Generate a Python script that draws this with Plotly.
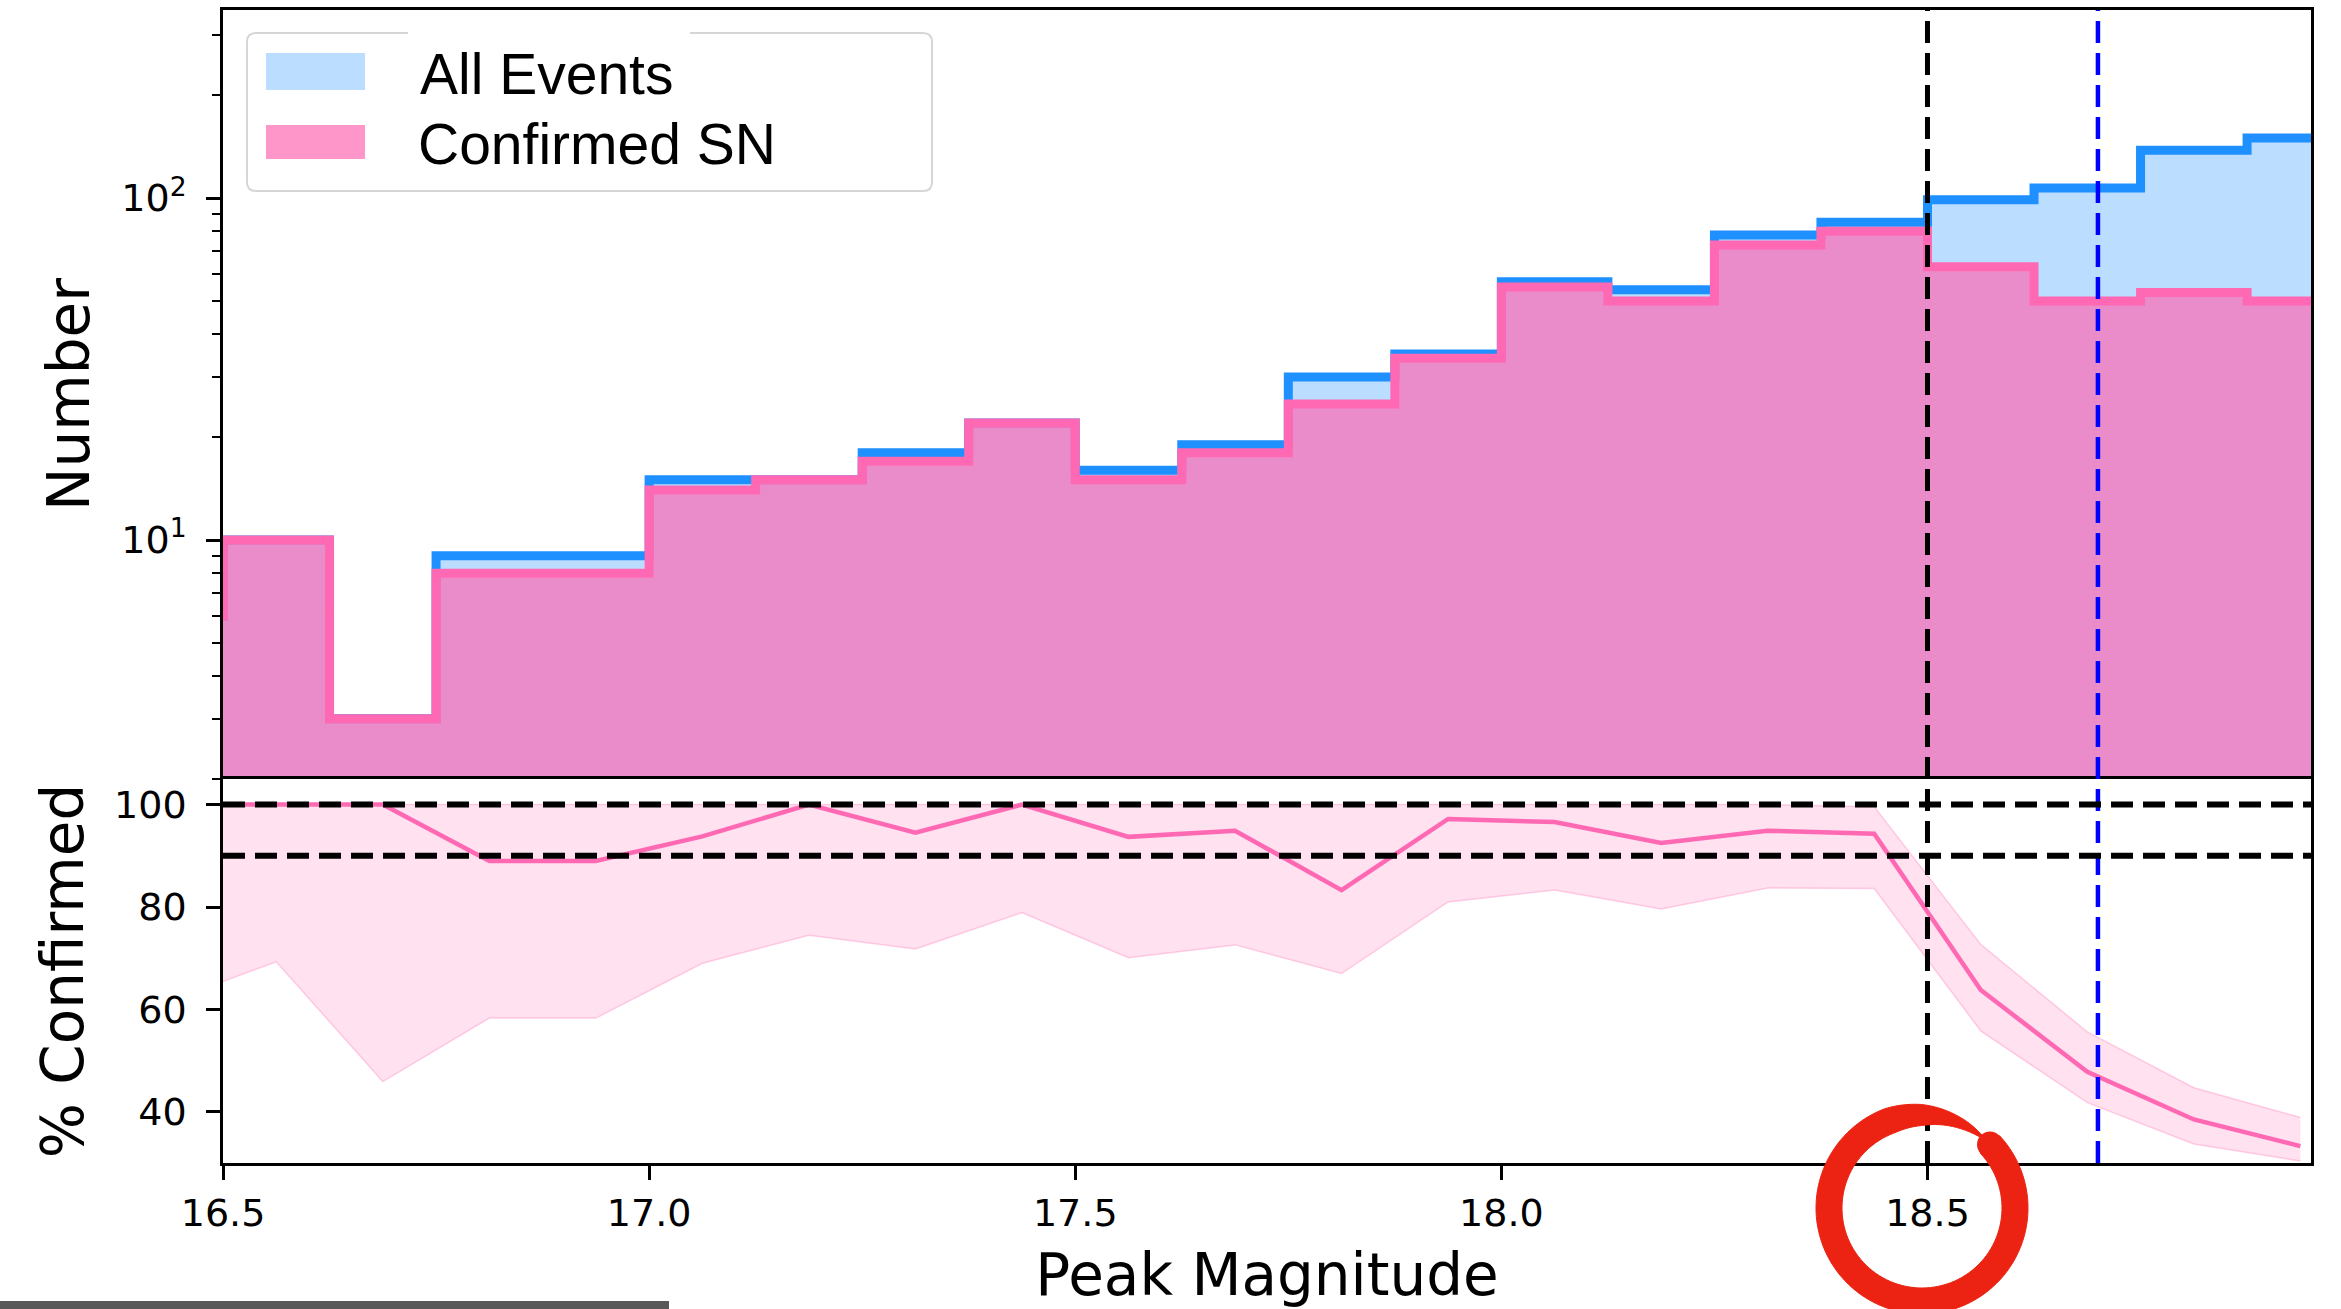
import math
import plotly.graph_objects as go

# ---------------- data ----------------
bin_left_edges = [16.375, 16.5, 16.625, 16.75, 16.875, 17.0, 17.125, 17.25, 17.375, 17.5,
                  17.625, 17.75, 17.875, 18.0, 18.125, 18.25, 18.375, 18.5, 18.625, 18.75, 18.875]
bin_last_edge = 19.0
all_events = [6, 10, 3, 9, 9, 15, 15, 18, 22, 16, 19, 30, 35, 57, 54, 78, 85, 99, 107, 138, 150]
confirmed_sn = [6, 10, 3, 8, 8, 14, 15, 17, 22, 15, 18, 25, 34, 55, 50, 73, 80, 63, 50, 53, 50]

bin_centers = [16.4375, 16.5625, 16.6875, 16.8125, 16.9375, 17.0625, 17.1875, 17.3125, 17.4375, 17.5625,
               17.6875, 17.8125, 17.9375, 18.0625, 18.1875, 18.3125, 18.4375, 18.5625, 18.6875, 18.8125, 18.9375]
pct_confirmed = [100, 100, 100, 89.0, 89.0, 93.8, 100, 94.5, 100, 93.7,
                 94.9, 83.3, 97.2, 96.6, 92.5, 94.9, 94.3, 63.8, 47.8, 38.5, 33.3]
pct_lower = [61.6, 69.3, 45.9, 58.3, 58.3, 69.0, 74.5, 71.8, 78.9, 70.1,
             72.6, 67.0, 81.0, 83.3, 79.6, 83.7, 83.6, 55.8, 41.8, 33.7, 30.4]
pct_upper = [100, 100, 100, 100, 100, 100, 100, 100, 100, 100,
             100, 100, 100, 100, 100, 100, 99.6, 72.7, 55.6, 44.7, 38.9]

x_tick_vals = [16.5, 17.0, 17.5, 18.0, 18.5]
x_tick_text = ["16.5", "17.0", "17.5", "18.0", "18.5"]
count_major_vals = [10, 100]
count_major_text = ["10<sup>1</sup>", "10<sup>2</sup>"]
count_minor_vals = [2, 3, 4, 5, 6, 7, 8, 9, 20, 30, 40, 50, 60, 70, 80, 90, 200, 300]
pct_tick_vals = [40, 60, 80, 100]
pct_ref_lines = [100, 90]
cut_mag = 18.5
blue_mag = 18.7
legend_labels = ["All Events", "Confirmed SN"]

# ---------------- styling ----------------
BLUE = "#1E90FF"
PINK = "#FF69B4"
BLUE_FILL = "rgba(30,144,255,0.3)"
PINK_FILL = "rgba(255,105,180,0.7)"
FIG_W, FIG_H = 2341, 1309
ML, MR, MT, MB = 223, 30, 10, 146
PW, PH = FIG_W - ML - MR, FIG_H - MT - MB
SPLIT = (1163 - 779) / PH


def px(xp):
    return (xp - ML) / PW


def py(yp):
    return (FIG_H - MB - yp) / PH


step_x = bin_left_edges + [bin_last_edge]
step_all = all_events + [all_events[-1]]
step_conf = confirmed_sn + [confirmed_sn[-1]]

fig = go.Figure()
fig.add_trace(go.Scatter(x=step_x, y=step_all, mode="lines", xaxis="x", yaxis="y",
                         line=dict(color=BLUE, width=9, shape="hv"),
                         fill="tozeroy", fillcolor=BLUE_FILL, name=legend_labels[0],
                         showlegend=False, hoverinfo="skip"))
fig.add_trace(go.Scatter(x=step_x, y=step_conf, mode="lines", xaxis="x", yaxis="y",
                         line=dict(color=PINK, width=9, shape="hv"),
                         fill="tozeroy", fillcolor=PINK_FILL, name=legend_labels[1],
                         showlegend=False, hoverinfo="skip"))

band_line = dict(color="rgba(255,105,180,0.3)", width=1.5)
fig.add_trace(go.Scatter(x=bin_centers, y=pct_lower, mode="lines", xaxis="x2", yaxis="y2",
                         line=band_line, showlegend=False, hoverinfo="skip"))
fig.add_trace(go.Scatter(x=bin_centers, y=pct_upper, mode="lines", xaxis="x2", yaxis="y2",
                         line=band_line, fill="tonexty", fillcolor="rgba(255,105,180,0.2)",
                         showlegend=False, hoverinfo="skip"))
fig.add_trace(go.Scatter(x=bin_centers, y=pct_confirmed, mode="lines", xaxis="x2", yaxis="y2",
                         line=dict(color=PINK, width=4.5), showlegend=False, hoverinfo="skip"))

axis_common = dict(showline=True, linecolor="black", linewidth=2.5, automargin=False,
                   showgrid=False, zeroline=False, tickcolor="black", tickwidth=2.5,
                   tickfont=dict(family="DejaVu Sans", size=38, color="black"))
title_font = dict(family="DejaVu Sans", size=58, color="black")

fig.update_layout(
    width=FIG_W, height=FIG_H, autosize=False,
    margin=dict(l=ML, r=MR, t=MT, b=MB, pad=0),
    paper_bgcolor="white", plot_bgcolor="white",
    font=dict(family="DejaVu Sans", color="black"),
    showlegend=False,
    xaxis=dict(domain=[0, 1], anchor="y", side="top", mirror=False, range=[16.5, 18.95],
               ticks="", showticklabels=False, **axis_common),
    xaxis2=dict(domain=[0, 1], anchor="y2", matches="x", range=[16.5, 18.95], mirror=True,
                tickmode="array", tickvals=x_tick_vals, ticktext=x_tick_text,
                ticks="outside", ticklen=14, ticklabelstandoff=1,
                title=dict(text="Peak Magnitude", font=title_font, standoff=22),
                **axis_common),
    yaxis=dict(domain=[SPLIT, 1], anchor="x", type="log", mirror=True,
               range=[math.log10(2), 2.5504],
               tickmode="array", tickvals=count_major_vals, ticktext=count_major_text,
               ticks="outside", ticklen=14, ticklabelstandoff=12,
               minor=dict(tickmode="array", tickvals=count_minor_vals, ticks="outside",
                          ticklen=8, tickwidth=2, tickcolor="black"),
               title=dict(text="Number", font=title_font, standoff=14),
               **axis_common),
    yaxis2=dict(domain=[0, SPLIT], anchor="x2", range=[30, 105], mirror=True,
                tickmode="array", tickvals=pct_tick_vals,
                ticks="outside", ticklen=14, ticklabelstandoff=12,
                title=dict(text="% Confirmed", font=title_font, standoff=12),
                **axis_common),
)

shapes = []
dash = "22px,10px"
# vertical reference lines in both panels
for xr, yr in (("x", "y domain"), ("x2", "y2 domain")):
    shapes.append(dict(type="line", xref=xr, yref=yr, x0=cut_mag, x1=cut_mag, y0=0, y1=1,
                       line=dict(color="black", width=5, dash=dash)))
    shapes.append(dict(type="line", xref=xr, yref=yr, x0=blue_mag, x1=blue_mag, y0=0, y1=1,
                       line=dict(color="#0000FF", width=4.5, dash=dash)))
# horizontal reference lines in bottom panel
for v in pct_ref_lines:
    shapes.append(dict(type="line", xref="x2 domain", yref="y2", x0=0, x1=1, y0=v, y1=v,
                       line=dict(color="black", width=6, dash=dash)))

# legend box (rounded)
lx0, lx1, ly0, ly1, r = 247, 932, 33, 191, 9
path = (f"M {px(lx0 + r)},{py(ly0)} L {px(lx1 - r)},{py(ly0)} "
        f"Q {px(lx1)},{py(ly0)} {px(lx1)},{py(ly0 + r)} L {px(lx1)},{py(ly1 - r)} "
        f"Q {px(lx1)},{py(ly1)} {px(lx1 - r)},{py(ly1)} L {px(lx0 + r)},{py(ly1)} "
        f"Q {px(lx0)},{py(ly1)} {px(lx0)},{py(ly1 - r)} L {px(lx0)},{py(ly0 + r)} "
        f"Q {px(lx0)},{py(ly0)} {px(lx0 + r)},{py(ly0)} Z")
shapes.append(dict(type="path", xref="paper", yref="paper", path=path,
                   fillcolor="rgba(255,255,255,0.85)", line=dict(color="#D6D6D6", width=2)))
shapes.append(dict(type="rect", xref="paper", yref="paper", x0=px(408), x1=px(690),
                   y0=py(37), y1=py(29), fillcolor="white", line=dict(width=0)))
shapes.append(dict(type="rect", xref="paper", yref="paper", x0=px(266), x1=px(365),
                   y0=py(90), y1=py(53), fillcolor=BLUE_FILL, line=dict(width=0)))
shapes.append(dict(type="rect", xref="paper", yref="paper", x0=px(266), x1=px(365),
                   y0=py(159), y1=py(125), fillcolor=PINK_FILL, line=dict(width=0)))

# red brush-stroke style ring around the 18.5 label (decoration)
cx, cy, rmid = 1922, 1208, 93
head_deg = 43.0
sweep = 354.0
thick_knots = [(0, 26), (293, 26), (313, 21), (340, 9), (354, 2)]


def ring_thickness(phi):
    for (p0, t0), (p1, t1) in zip(thick_knots[:-1], thick_knots[1:]):
        if p0 <= phi <= p1:
            return t0 + (t1 - t0) * (phi - p0) / (p1 - p0)
    return thick_knots[-1][1]


n_seg = 120
outer, inner = [], []
for i in range(n_seg + 1):
    phi = sweep * i / n_seg
    th = math.radians(head_deg - phi)
    t = ring_thickness(phi)
    ro, ri = rmid + t / 2, rmid - t / 2
    outer.append((cx + ro * math.cos(th), cy - ro * math.sin(th)))
    inner.append((cx + ri * math.cos(th), cy - ri * math.sin(th)))
pts = outer + inner[::-1]
ring_path = "M " + " L ".join(f"{px(a):.5f},{py(b):.5f}" for a, b in pts) + " Z"
shapes.append(dict(type="path", xref="paper", yref="paper", path=ring_path,
                   fillcolor="#EC2312", line=dict(color="#EC2312", width=1)))
# rounded head of the stroke
hx = cx + rmid * math.cos(math.radians(head_deg))
hy = cy - rmid * math.sin(math.radians(head_deg))
shapes.append(dict(type="circle", xref="paper", yref="paper",
                   x0=px(hx - 13), x1=px(hx + 13), y0=py(hy + 13), y1=py(hy - 13),
                   fillcolor="#EC2312", line=dict(width=0)))

# grey bar at bottom-left edge
shapes.append(dict(type="rect", xref="paper", yref="paper", x0=px(0), x1=px(669),
                   y0=py(1309), y1=py(1301), fillcolor="#585858", line=dict(width=0)))
fig.update_layout(shapes=shapes)

leg_font = dict(family="Liberation Sans, Arial, sans-serif", size=57, color="black")
fig.add_annotation(x=px(418), y=py(74), xref="paper", yref="paper", text=legend_labels[0],
                   showarrow=False, xanchor="left", yanchor="middle", font=leg_font)
fig.add_annotation(x=px(416), y=py(144), xref="paper", yref="paper", text=legend_labels[1],
                   showarrow=False, xanchor="left", yanchor="middle", font=leg_font)

fig.write_html("out.html", config={"displayModeBar": False},
               post_script="document.body.style.margin='0';document.body.style.overflow='hidden';")
